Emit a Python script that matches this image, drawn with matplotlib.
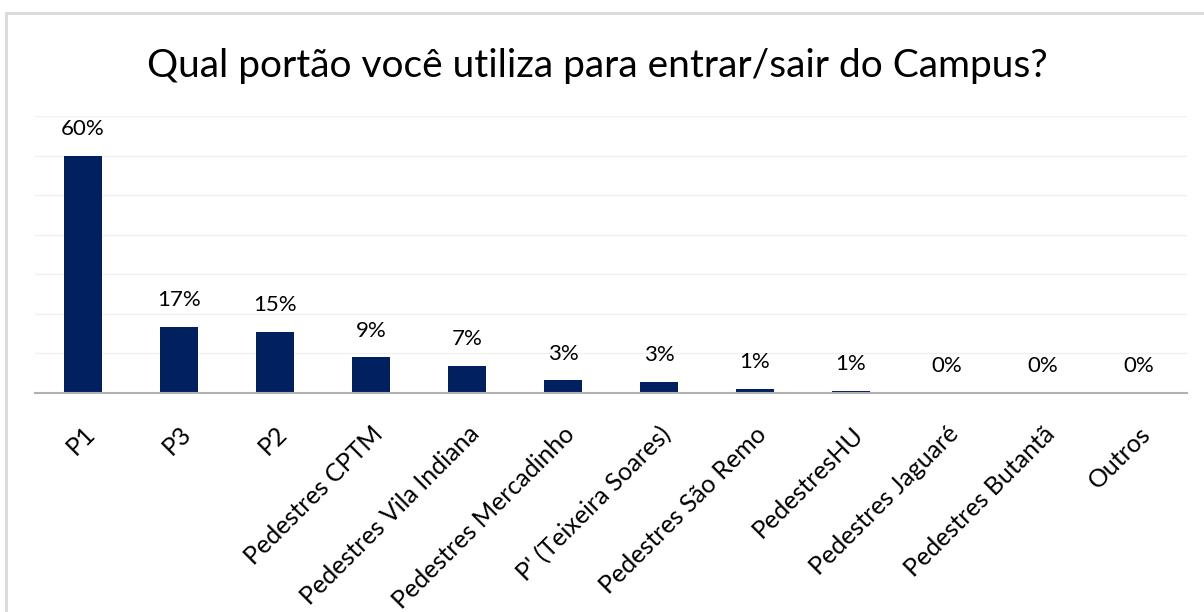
import numpy as np
import matplotlib
matplotlib.use("Agg")
import matplotlib.pyplot as plt
from matplotlib.patches import Rectangle

plt.rcParams['font.family'] = ['Lato', 'DejaVu Sans']

categorias = ['P1', 'P3', 'P2', 'Pedestres CPTM', 'Pedestres Vila Indiana',
              'Pedestres Mercadinho', "P' (Teixeira Soares)", 'Pedestres São Remo',
              'PedestresHU', 'Pedestres Jaguaré', 'Pedestres Butantã', 'Outros']
valores = [60.0, 16.8, 15.4, 9.0, 6.8, 3.2, 2.8, 1.1, 0.6, 0.0, 0.0, 0.0]

fig = plt.figure(figsize=(12.04, 6.12), dpi=100)
ax = fig.add_axes([35/1204, 219/612, 1152/1204, 277/612])

x = np.arange(len(categorias))
barras = ax.bar(x, valores, width=0.4, color='#002060', zorder=3)

for xi, v in zip(x, valores):
    ax.annotate(f'{v:.0f}%', (xi, v), xytext=(0, 12), textcoords='offset points',
                ha='center', va='bottom', fontsize=16, color='black')

ax.set_xlim(-0.5, len(categorias) - 0.5)
ax.set_ylim(0, 70)
ax.set_yticks(np.arange(0, 71, 10))
ax.yaxis.grid(True, color='#f0f0f0', linewidth=1)
ax.tick_params(axis='y', left=False, labelleft=False)
ax.tick_params(axis='x', length=0, pad=21)
ax.set_xticks(x)
ax.set_xticklabels(categorias, rotation=45, ha='right', rotation_mode='anchor',
                   fontsize=18)
for s in ['top', 'right', 'left']:
    ax.spines[s].set_visible(False)
ax.spines['bottom'].set_color('#b0b0b0')
ax.spines['bottom'].set_linewidth(1.5)
ax.spines['bottom'].set_zorder(4)

fig.text(597/1204, 1 - 66/612, 'Qual portão você utiliza para entrar/sair do Campus?',
         ha='center', va='center', fontsize=28, color='black')

# moldura cinza do gráfico
fig.patches.append(Rectangle((6/1204, -0.1), 1.2, 1 - 13/612 + 0.1,
                             transform=fig.transFigure, fill=False,
                             edgecolor='#d9d9d9', linewidth=2))

fig.savefig('out.png', dpi=100)
